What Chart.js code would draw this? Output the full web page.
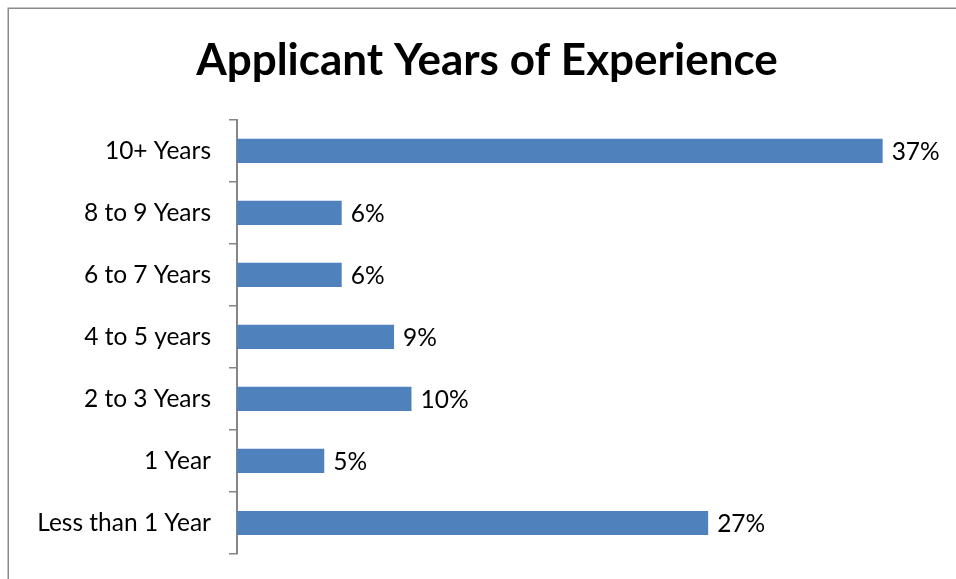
<!DOCTYPE html>
<html>
<head>
<meta charset="utf-8">
<script src="https://cdn.jsdelivr.net/npm/chart.js@4/dist/chart.umd.min.js"></script>
<style>
  html, body { margin: 0; padding: 0; background: #fff; }
  #wrap { position: relative; width: 956px; height: 579px; }
</style>
</head>
<body>
<div id="wrap"><canvas id="chart" width="956" height="579"></canvas></div>
<script>
// Years of experience of applicants, share of all applicants (%)
const categories = ['10+ Years', '8 to 9 Years', '6 to 7 Years', '4 to 5 years', '2 to 3 Years', '1 Year', 'Less than 1 Year'];
const shares = [37, 6, 6, 9, 10, 5, 27];
const chartTitle = 'Applicant Years of Experience';

const FONT = "Lato, 'Open Sans', 'Liberation Sans', sans-serif";
const AXIS_GREY = '#868686';

// Grey outline framing the chart
const framePlugin = {
  id: 'frame',
  beforeDraw(chart) {
    const ctx = chart.ctx;
    ctx.save();
    ctx.fillStyle = '#ffffff';
    ctx.fillRect(0, 0, chart.width, chart.height);
    ctx.strokeStyle = '#8a8a8a';
    ctx.lineWidth = 1.5;
    ctx.strokeRect(8.25, 8.25, chart.width + 20, chart.height + 20);
    ctx.restore();
  }
};

// Percentage label just beyond the end of each bar
const valueLabelPlugin = {
  id: 'valueLabels',
  afterDatasetsDraw(chart) {
    const ctx = chart.ctx;
    const meta = chart.getDatasetMeta(0);
    const values = chart.data.datasets[0].data;
    ctx.save();
    ctx.font = '24.5px ' + FONT;
    ctx.fillStyle = '#000';
    ctx.textAlign = 'left';
    ctx.textBaseline = 'middle';
    meta.data.forEach((bar, i) => {
      ctx.fillText(values[i] + '%', bar.x + 9, bar.y + 1);
    });
    ctx.restore();
  }
};

new Chart(document.getElementById('chart'), {
  type: 'bar',
  data: {
    labels: categories,
    datasets: [{
      data: shares,
      backgroundColor: '#4F81BD',
      borderWidth: 0,
      barPercentage: 0.39,
      categoryPercentage: 1.0
    }]
  },
  options: {
    indexAxis: 'y',
    responsive: false,
    animation: false,
    layout: { padding: { left: 39, right: 21, top: 0, bottom: 25 } },
    plugins: {
      legend: { display: false },
      tooltip: { enabled: false },
      title: {
        display: true,
        text: chartTitle,
        color: '#000',
        font: { family: FONT, size: 44, weight: 'bold', lineHeight: 1.2 },
        padding: { top: 34, bottom: 33 }
      }
    },
    scales: {
      x: {
        display: false,
        min: 0,
        max: 40
      },
      y: {
        afterFit(scale) {
          scale.width = 198;
          scale.paddingTop = 0;
          scale.paddingBottom = 0;
        },
        border: { display: true, color: AXIS_GREY, width: 2 },
        grid: {
          display: true,
          drawOnChartArea: false,
          drawTicks: true,
          tickLength: 8,
          color: AXIS_GREY,
          lineWidth: 1.5,
          offset: true
        },
        ticks: {
          color: '#000',
          padding: 18,
          font: { family: FONT, size: 24.5 }
        }
      }
    }
  },
  plugins: [framePlugin, valueLabelPlugin]
});
</script>
</body>
</html>
